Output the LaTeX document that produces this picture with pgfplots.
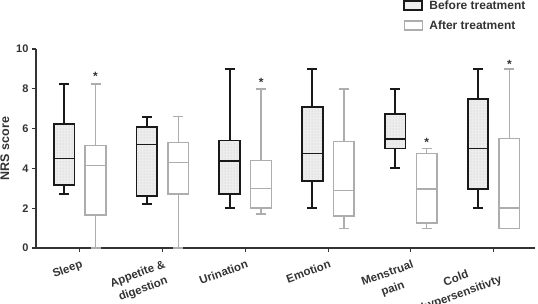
\documentclass[border=0pt]{standalone}
\usepackage{fontspec}
\setmainfont{Liberation Sans}
\usepackage{pgfplots}
\pgfplotsset{compat=1.18}
\usepgfplotslibrary{statistics}
\usetikzlibrary{patterns}
\definecolor{aftgray}{HTML}{ADADAD}
\definecolor{axgray}{HTML}{333333}
\pgfplotsset{
  before/.style={draw=black!90, line width=1.9pt, solid,
    boxplot/every box/.style={fill=gray!14, postaction={pattern=dots, pattern color=gray!45}},
    boxplot/every median/.style={line width=1.9pt}},
  after/.style={draw=aftgray, line width=1.5pt, solid,
    boxplot/every box/.style={fill=white},
    boxplot/every median/.style={line width=1.5pt}},
}
\begin{document}
\begin{tikzpicture}
\begin{axis}[
  name=ax,
  scale only axis, width=499pt, height=199pt,
  xmin=-0.53, xmax=5.5, ymin=0, ymax=10,
  axis lines*=left,
  axis line style={axgray, line width=1.2pt},
  tick style={axgray, line width=1.1pt},
  tick align=outside, major tick length=4pt,
  xtick={0,1,2,3,4,5},
  xticklabels={Sleep, {Appetite \&\\digestion}, Urination, Emotion, {Menstrual\\pain}, {Cold\\hypersensitivty}},
  xticklabel style={rotate=20, anchor=north east, align=center, font=\bfseries\fontsize{11.5}{16}\selectfont, inner sep=2pt, text=axgray, yshift=-5pt},
  ytick={0,2,4,6,8,10},
  yticklabel style={font=\bfseries\fontsize{11}{12}\selectfont, text=axgray},
  /pgf/number format/assume math mode=true,
  ylabel={NRS score},
  ylabel style={font=\bfseries\fontsize{12.5}{13}\selectfont, text=axgray},
  boxplot/draw direction=y,
  boxplot/box extend=0.25,
  boxplot/whisker extend=0.12,
  legend style={at={(rel axis cs:0.73,1.265)}, anchor=north west, draw=none, fill=none,
    font=\bfseries\fontsize{12}{13}\selectfont, row sep=6pt, text=axgray},
  legend cell align=left,
  legend image code/.code={\draw[#1] (0pt,-4pt) rectangle (18pt,5pt); \path (22pt,0pt);},
  clip=false,
]
\addlegendimage{draw=black!90, line width=1.9pt, fill=gray!14}
\addlegendentry{Before treatment}
\addlegendimage{draw=aftgray, line width=1.5pt, fill=white}
\addlegendentry{After treatment}

% Sleep
\addplot[before, forget plot, boxplot prepared={draw position=-0.19, lower whisker=2.7, lower quartile=3.15, median=4.5, upper quartile=6.25, upper whisker=8.25}] coordinates {};
\addplot[after, forget plot, boxplot prepared={draw position=0.19, lower whisker=0, lower quartile=1.65, median=4.15, upper quartile=5.15, upper whisker=8.25}] coordinates {};
% Appetite
\addplot[before, forget plot, boxplot prepared={draw position=0.81, lower whisker=2.2, lower quartile=2.62, median=5.2, upper quartile=6.1, upper whisker=6.6}] coordinates {};
\addplot[after, forget plot, boxplot prepared={draw position=1.19, lower whisker=0, lower quartile=2.72, median=4.3, upper quartile=5.3, upper whisker=6.6}] coordinates {};
% Urination
\addplot[before, forget plot, boxplot prepared={draw position=1.81, lower whisker=2.0, lower quartile=2.73, median=4.35, upper quartile=5.4, upper whisker=9.0}] coordinates {};
\addplot[after, forget plot, boxplot prepared={draw position=2.19, lower whisker=1.72, lower quartile=2.0, median=3.0, upper quartile=4.4, upper whisker=8.0}] coordinates {};
% Emotion
\addplot[before, forget plot, boxplot prepared={draw position=2.81, lower whisker=2.0, lower quartile=3.35, median=4.75, upper quartile=7.1, upper whisker=9.0}] coordinates {};
\addplot[after, forget plot, boxplot prepared={draw position=3.19, lower whisker=0.97, lower quartile=1.62, median=2.88, upper quartile=5.35, upper whisker=8.0}] coordinates {};
% Menstrual pain
\addplot[before, forget plot, boxplot prepared={draw position=3.81, lower whisker=4.0, lower quartile=5.0, median=5.5, upper quartile=6.75, upper whisker=8.0}] coordinates {};
\addplot[after, forget plot, boxplot prepared={draw position=4.19, lower whisker=0.97, lower quartile=1.25, median=2.97, upper quartile=4.75, upper whisker=5.0}] coordinates {};
% Cold hypersensitivity
\addplot[before, forget plot, boxplot prepared={draw position=4.81, lower whisker=2.0, lower quartile=2.97, median=5.0, upper quartile=7.5, upper whisker=9.0}] coordinates {};
\addplot[after, forget plot, boxplot prepared={draw position=5.19, lower whisker=0.97, lower quartile=0.97, median=2.0, upper quartile=5.5, upper whisker=9.0}] coordinates {};

\node[font=\bfseries\fontsize{12}{12}\selectfont, text=axgray] at (axis cs:0.19,8.6) {*};
\node[font=\bfseries\fontsize{12}{12}\selectfont, text=axgray] at (axis cs:2.19,8.3) {*};
\node[font=\bfseries\fontsize{12}{12}\selectfont, text=axgray] at (axis cs:4.19,5.3) {*};
\node[font=\bfseries\fontsize{12}{12}\selectfont, text=axgray] at (axis cs:5.19,9.25) {*};
\end{axis}
\pgfresetboundingbox
\path[use as bounding box] ([shift={(-36pt,-55pt)}]ax.south west) rectangle ([shift={(502pt,248pt)}]ax.south west);
\end{tikzpicture}
\end{document}
